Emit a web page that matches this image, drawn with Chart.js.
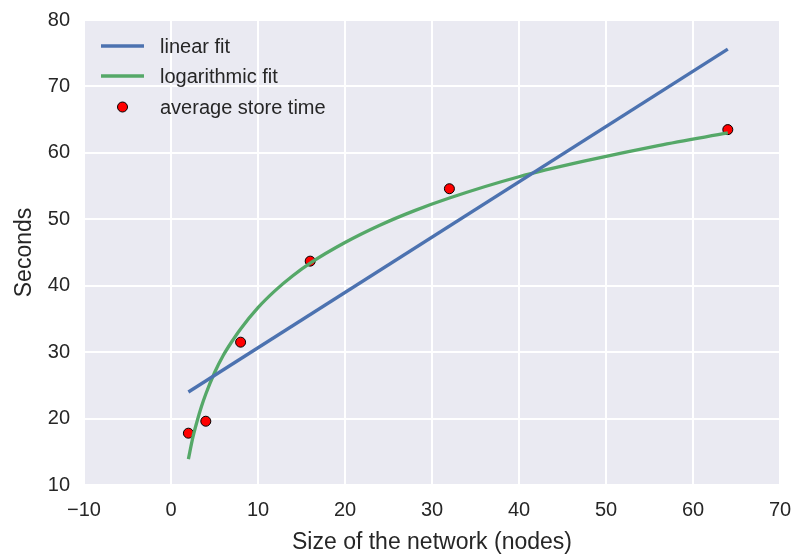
<!DOCTYPE html>
<html>
<head>
<meta charset="utf-8">
<script src="https://cdn.jsdelivr.net/npm/chart.js@4/dist/chart.umd.min.js"></script>
<style>
  html, body { margin: 0; padding: 0; background: #fff; }
  #wrap { width: 797px; height: 556px; }
</style>
</head>
<body>
<div id="wrap"><canvas id="chart"></canvas></div>
<script>
// network sizes and measured store times
const nodes = [2, 4, 8, 16, 32, 64];
const storeTimes = [17.8, 19.6, 31.5, 43.7, 54.6, 63.5];

// linear fit endpoints
const linearX = [2, 64];
const linearY = [24.0, 75.6];

// logarithmic fit, sampled along the curve
const logX = [2, 2.5, 3, 3.5, 4, 5, 6, 7, 8, 10, 12, 14, 16, 20, 24, 28, 32, 40, 48, 56, 64];
const logY = [13.9, 17.1, 19.6, 21.8, 23.7, 26.9, 29.5, 31.6, 33.5, 36.7, 39.3, 41.5, 43.4, 46.5, 49.1, 51.3, 53.2, 56.4, 58.9, 61.1, 63.0];

const xTicks = [-10, 0, 10, 20, 30, 40, 50, 60, 70];
const yTicks = [10, 20, 30, 40, 50, 60, 70, 80];

const BLUE = '#4C72B0';
const GREEN = '#55A868';
const TEXT = '#262626';
const FONT = '"Liberation Sans", Arial, sans-serif';

const toPts = (xs, ys) => xs.map((x, i) => ({ x: x, y: ys[i] }));

// grey plot background
const bgPlugin = {
    id: 'bg',
    beforeDraw(chart) {
        const { ctx, chartArea: a } = chart;
        ctx.save();
        ctx.fillStyle = '#EAEAF2';
        ctx.fillRect(a.left, a.top, a.right - a.left, a.bottom - a.top);
        ctx.restore();
    }
};

// legend drawn inside the plot, top-left, like matplotlib
const legendPlugin = {
    id: 'innerLegend',
    afterDraw(chart) {
        const { ctx } = chart;
        const rows = [46, 76, 107];
        ctx.save();
        ctx.font = '20px ' + FONT;
        ctx.textBaseline = 'middle';
        chart.data.datasets.forEach((ds, i) => {
            const y = rows[i];
            if (ds.showLine) {
                ctx.strokeStyle = ds.borderColor;
                ctx.lineWidth = 3.3;
                ctx.beginPath();
                ctx.moveTo(101, y);
                ctx.lineTo(144, y);
                ctx.stroke();
            } else {
                ctx.beginPath();
                ctx.arc(122.5, y, 5, 0, Math.PI * 2);
                ctx.fillStyle = ds.backgroundColor;
                ctx.fill();
                ctx.lineWidth = 1;
                ctx.strokeStyle = '#000';
                ctx.stroke();
            }
            ctx.fillStyle = TEXT;
            ctx.fillText(ds.label, 160, y + 1);
        });
        ctx.restore();
    }
};

new Chart(document.getElementById('chart'), {
    type: 'scatter',
    data: {
        datasets: [
            { label: 'linear fit', data: toPts(linearX, linearY), showLine: true, borderColor: BLUE, borderWidth: 3.3, pointRadius: 0, borderCapStyle: 'butt' },
            { label: 'logarithmic fit', data: toPts(logX, logY), showLine: true, borderColor: GREEN, borderWidth: 3.3, pointRadius: 0, cubicInterpolationMode: 'monotone' },
            { label: 'average store time', data: toPts(nodes, storeTimes), showLine: false, backgroundColor: '#FF0000', borderColor: '#000', borderWidth: 1, pointRadius: 5 }
        ]
    },
    options: {
        responsive: true,
        maintainAspectRatio: false,
        animation: false,
        layout: { padding: { top: 20, right: 17, left: 0, bottom: 0 } },
        plugins: { legend: { display: false }, tooltip: { enabled: false } },
        scales: {
            x: {
                type: 'linear', min: -10, max: 70,
                afterBuildTicks: s => { s.ticks = xTicks.map(v => ({ value: v })); },
                afterFit: s => { s.height = 71; s.paddingLeft = 0; s.paddingRight = 0; },
                grid: { color: '#fff', lineWidth: 2, drawTicks: false },
                border: { display: false },
                ticks: {
                    color: TEXT, font: { size: 20, family: FONT }, padding: 13,
                    callback: v => String(v).replace('-', '\u2212')
                },
                title: { display: true, text: 'Size of the network (nodes)', color: TEXT, font: { size: 23, family: FONT }, padding: { top: 2, bottom: 0 } }
            },
            y: {
                type: 'linear', min: 10, max: 80,
                afterBuildTicks: s => { s.ticks = yTicks.map(v => ({ value: v })); },
                afterFit: s => { s.width = 84; s.paddingTop = 0; s.paddingBottom = 0; },
                grid: { color: '#fff', lineWidth: 2, drawTicks: false },
                border: { display: false },
                ticks: { color: TEXT, font: { size: 20, family: FONT }, padding: 14 },
                title: { display: true, text: 'Seconds', color: TEXT, font: { size: 23, family: FONT }, padding: { top: 11, bottom: 0 } }
            }
        }
    },
    plugins: [bgPlugin, legendPlugin]
});
</script>
</body>
</html>
